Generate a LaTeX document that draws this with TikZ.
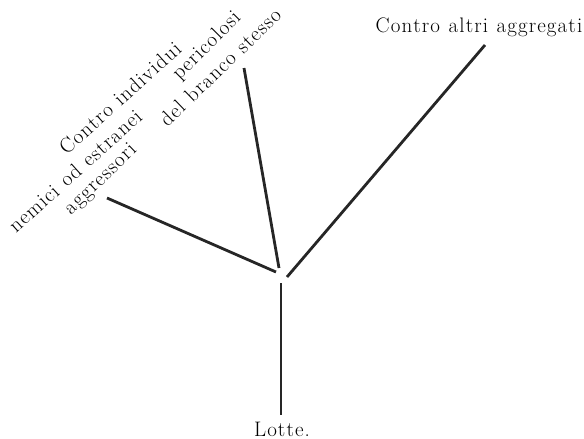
\documentclass[tikz,border=0pt]{standalone}
\newcommand\lspend{\relax}
\newlength\lskern
\setlength\lskern{1.1pt}
\def\lsp#1{\lspB#1\lspend}
\def\lspB#1{#1\lspA}
\def\lspA#1{\ifx#1\lspend\else\kern\lskern#1\expandafter\lspA\fi}
\begin{document}
\begin{tikzpicture}[x=1pt,y=-1pt,
  lbl/.style={inner sep=0pt,font=\fontsize{21}{25}\selectfont},
  branch/.style={line width=2.8pt,draw=black!85}]
\useasboundingbox (0,0) rectangle (584,439);
% labels
\node[lbl,anchor=base] (top) at (479,32) {\lsp{Contro~altri~aggregati}};
\node[lbl,anchor=base] (lotte) at (282,436) {\lsp{Lotte.}};
\node[lbl,rotate=42] (c1) at (120,98) {\lsp{Contro~individui}};
\node[lbl,rotate=42] (c2) at (75,171) {\lsp{nemici~od~estranei}};
\node[lbl,rotate=44] (c3) at (101,180) {\lsp{aggressori}};
\node[lbl,rotate=45] (p1) at (207,46) {\lsp{pericolosi}};
\node[lbl,rotate=44] (p2) at (220,67) {\lsp{del~branco~stesso}};
% branch ends
\coordinate (l0) at (107,198);
\coordinate (l1) at (276,272);
\coordinate (m0) at (244,68);
\coordinate (m1) at (279,268);
\coordinate (r0) at (485,45);
\coordinate (r1) at (287,277);
\coordinate (v0) at (281,283);
\coordinate (v1) at (281,415);
\draw[branch] (l0) -- (l1);
\draw[branch] (m0) -- (m1);
\draw[branch] (r0) -- (r1);
\draw[branch] (v0) -- (v1);
\end{tikzpicture}
\end{document}
